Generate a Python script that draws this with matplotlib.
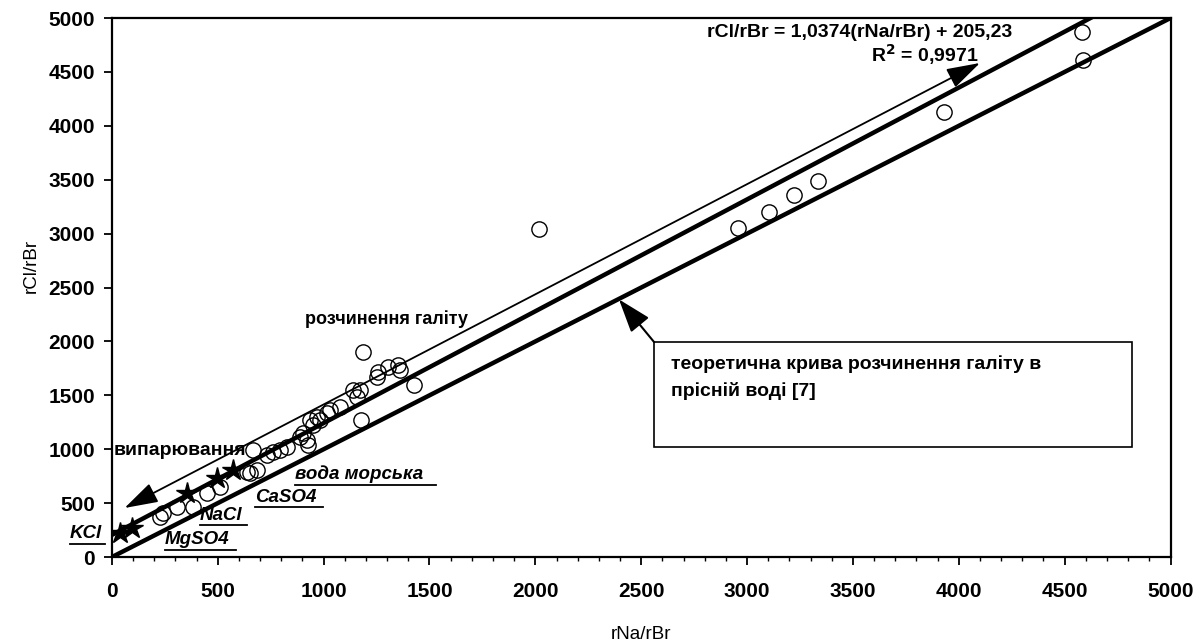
import numpy as np
import matplotlib
matplotlib.use("Agg")
import matplotlib.pyplot as plt
from matplotlib.patches import Rectangle

plt.rcParams['font.family'] = ['Liberation Sans', 'DejaVu Sans']

# measured samples (open circles)
na_br = [4580, 4585, 3930, 3337, 3223, 3105, 2958, 2018, 1185, 1425, 1175,
         1257, 1304, 1352, 1361, 1252, 1172, 1158, 1077, 1030, 968, 936,
         950, 903, 888, 827, 794, 761, 732, 666, 652, 685, 638, 921, 983,
         1016, 926, 1139, 449, 510, 383, 307, 241, 227]
cl_br = [4870, 4610, 4128, 3488, 3358, 3200, 3052, 3043, 1902, 1596, 1271,
         1716, 1763, 1781, 1735, 1670, 1549, 1484, 1392, 1364, 1299, 1271,
         1224, 1150, 1113, 1020, 993, 974, 946, 993, 779, 807, 788, 1085,
         1271, 1336, 1039, 1549, 594, 650, 464, 464, 408, 371]

# evaporation path (stars)
star_x = [38, 95, 354, 496, 572]
star_y = [225, 265, 595, 730, 810]

# salt labels: text, x, y
salt_names = ['KCl', 'MgSO4', 'NaCl', 'CaSO4', 'вода морська']
salt_x = [-200, 250, 416, 676, 865]
salt_y = [222, 160, 390, 557, 772]

slope, intercept = 1.0374, 205.23
xmax = 5000

fig = plt.figure(figsize=(12.03, 6.44), dpi=100)
ax = fig.add_axes([0.093, 0.135, 0.88, 0.837])

# theoretical curve y = x
xt = np.array([0, xmax])
ax.plot(xt, xt, color='black', lw=3.2, zorder=3)
# regression line
xr = np.array([0, (xmax - intercept) / slope])
ax.plot(xr, slope * xr + intercept, color='black', lw=3.2, zorder=3)

ax.plot(na_br, cl_br, 'o', ms=11, mfc='none', mec='black', mew=1.0, zorder=4)
ax.plot(star_x, star_y, '*', ms=16, color='black', zorder=5)

# double arrow evaporation / halite dissolution
ax.annotate('', xy=(4100, 4583), xytext=(60, 455),
            arrowprops=dict(arrowstyle='<|-|>,head_length=1.3,head_width=0.4',
                            color='black', lw=1.3, shrinkA=0, shrinkB=0,
                            mutation_scale=16), zorder=6)
ax.text(10, 993, 'випарювання', fontsize=14, fontweight='bold',
        ha='left', va='center', zorder=7)
ax.text(910, 2210, 'розчинення галіту', fontsize=13, fontweight='bold',
        ha='left', va='center', zorder=7)

# box with caption
ax.add_patch(Rectangle((2561, 1020), 2259, 974, fill=False, ec='black',
                       lw=1.2, zorder=6))
ax.text(2640, 1790, 'теоретична крива розчинення галіту в', fontsize=14,
        fontweight='bold', ha='left', va='center', zorder=7)
ax.text(2640, 1540, 'прісній воді [7]', fontsize=14,
        fontweight='bold', ha='left', va='center', zorder=7)
ax.annotate('', xy=(2395, 2390), xytext=(2561, 1994),
            arrowprops=dict(arrowstyle='-|>,head_length=1.3,head_width=0.45',
                            color='black', lw=1.5, shrinkA=0, shrinkB=0,
                            mutation_scale=16), zorder=6)

# regression equation
ax.text(3530, 4870, 'rCl/rBr = 1,0374(rNa/rBr) + 205,23', fontsize=14,
        fontweight='bold', ha='center', va='center', zorder=7)
ax.text(3840, 4660, r'R$^\mathbf{2}$ = 0,9971', fontsize=14,
        fontweight='bold', ha='center', va='center', zorder=7)

# underlined salt labels
labels = []
for name, x, y in zip(salt_names, salt_x, salt_y):
    t = ax.text(x, y, name, fontsize=13.5, fontweight='bold', style='italic',
                ha='left', va='center', clip_on=False, zorder=7)
    labels.append(t)
fig.canvas.draw()
inv = ax.transData.inverted()
for t in labels:
    bb = t.get_window_extent()
    (x0, y0), (x1, _) = inv.transform([(bb.x0, bb.y0 - 1), (bb.x1, bb.y0)])
    ax.plot([x0, x1], [y0, y0], color='black', lw=1.3, clip_on=False, zorder=7)

ax.set_xlim(0, xmax)
ax.set_ylim(0, 5000)
ax.set_xticks(np.arange(0, 5001, 500))
ax.set_xticks(np.arange(0, 5001, 100), minor=True)
ax.set_yticks(np.arange(0, 5001, 500))
ax.tick_params(which='major', direction='out', length=6, width=1.3,
               labelsize=15, pad=12)
ax.tick_params(axis='y', pad=6)
ax.tick_params(which='minor', direction='out', length=3, width=1.0)
for lab in ax.get_xticklabels() + ax.get_yticklabels():
    lab.set_fontweight('bold')
for sp in ax.spines.values():
    sp.set_linewidth(1.6)

ax.set_xlabel('rNa/rBr', fontsize=13.5, labelpad=18)
ax.set_ylabel('rCl/rBr', fontsize=13.5)
ax.yaxis.set_label_coords(-0.068, 0.54)

fig.savefig('out.png', dpi=100)
